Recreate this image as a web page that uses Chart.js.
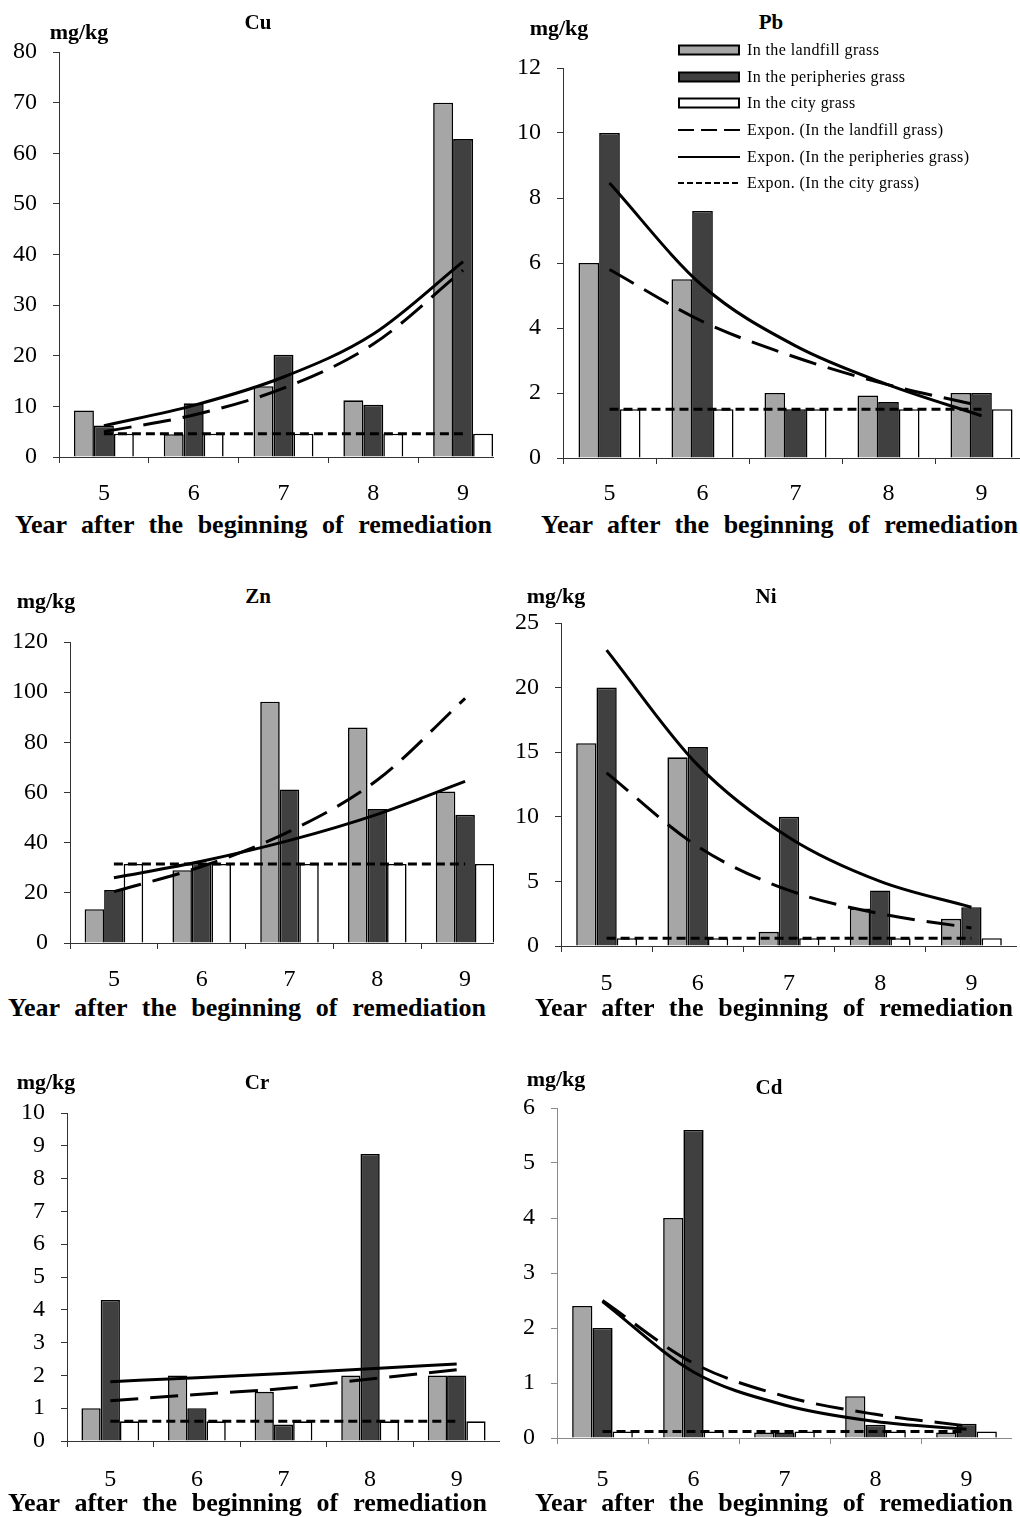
<!DOCTYPE html>
<html>
<head>
<meta charset="utf-8">
<script src="https://cdn.jsdelivr.net/npm/chart.js@4.4.1/dist/chart.umd.min.js"></script>
<style>
  html, body { margin:0; padding:0; background:#fff; }
  body { width:1020px; height:1517px; overflow:hidden; position:relative; font-family:"Liberation Serif","Times New Roman",serif; color:#000; }
  .ttl { position:absolute; font-weight:bold; font-size:21px; line-height:24px; white-space:nowrap; transform:translate(-50%,-50%); }
  .unit { position:absolute; font-weight:bold; font-size:22px; line-height:24px; white-space:nowrap; transform:translate(-50%,-50%); }
  .xt { position:absolute; font-weight:bold; font-size:26px; line-height:30px; height:30px; text-align:justify; text-align-last:justify; overflow:hidden; }
  .leg { position:absolute; left:678px; height:20px; display:flex; align-items:center; font-size:16px; letter-spacing:0.4px; white-space:nowrap; }
  .leg svg { margin-right:6px; }
</style>
</head>
<body>
<script>
// ---------- data ----------
const categories = ['5', '6', '7', '8', '9'];
const seriesNames = ['In the landfill grass', 'In the peripheries grass', 'In the city grass'];
const trendNames = ['Expon. (In the landfill grass)', 'Expon. (In the peripheries grass)', 'Expon. (In the city grass)'];
const xAxisTitle = 'Year after the beginning of remediation';
const unitLabel = 'mg/kg';

// Cu
const cuYTicks = [0, 10, 20, 30, 40, 50, 60, 70, 80];
const cuLandfill = [9.2, 4.5, 14.0, 11.2, 70.0];
const cuPeriph = [6.2, 10.6, 20.2, 10.3, 62.8];
const cuCity = [4.6, 4.6, 4.6, 4.6, 4.6];
const cuTrendLandfill = [5.0, 8.3, 13.6, 22.3, 36.9];
const cuTrendPeriph = [6.2, 10.2, 15.8, 24.3, 38.6];
const cuTrendCity = [4.6, 4.6, 4.6, 4.6, 4.6];

// Pb
const pbYTicks = [0, 2, 4, 6, 8, 10, 12];
const pbLandfill = [6.0, 5.5, 2.0, 1.92, 2.0];
const pbPeriph = [10.0, 7.6, 1.5, 1.72, 2.0];
const pbCity = [1.5, 1.5, 1.5, 1.5, 1.5];
const pbTrendLandfill = [5.8, 4.2, 3.1, 2.25, 1.6];
const pbTrendPeriph = [8.46, 5.3, 3.45, 2.25, 1.3];
const pbTrendCity = [1.5, 1.5, 1.5, 1.5, 1.5];

// Zn
const znYTicks = [0, 20, 40, 60, 80, 100, 120];
const znLandfill = [13.5, 29.0, 96.2, 85.9, 60.4];
const znPeriph = [21.1, 32.0, 61.2, 53.4, 51.1];
const znCity = [31.5, 31.5, 31.5, 31.5, 31.5];
const znTrendLandfill = [20.5, 30.5, 44.5, 65.0, 97.5];
const znTrendPeriph = [26.0, 32.6, 40.9, 51.3, 64.4];
const znTrendCity = [31.5, 31.5, 31.5, 31.5, 31.5];

// Ni
const niYTicks = [0, 5, 10, 15, 20, 25];
const niLandfill = [15.7, 14.6, 1.1, 2.9, 2.1];
const niPeriph = [20.0, 15.4, 10.0, 4.3, 3.0];
const niCity = [0.6, 0.6, 0.6, 0.6, 0.6];
const niTrendLandfill = [13.4, 7.7, 4.3, 2.5, 1.4];
const niTrendPeriph = [22.9, 14.0, 8.4, 5.0, 3.0];
const niTrendCity = [0.6, 0.6, 0.6, 0.6, 0.6];

// Cr
const crYTicks = [0, 1, 2, 3, 4, 5, 6, 7, 8, 9, 10];
const crLandfill = [1.0, 2.0, 1.5, 2.0, 2.0];
const crPeriph = [4.3, 1.0, 0.5, 8.75, 2.0];
const crCity = [0.6, 0.6, 0.6, 0.6, 0.6];
const crTrendLandfill = [1.23, 1.42, 1.6, 1.89, 2.17];
const crTrendPeriph = [1.81, 1.93, 2.06, 2.2, 2.35];
const crTrendCity = [0.6, 0.6, 0.6, 0.6, 0.6];

// Cd
const cdYTicks = [0, 1, 2, 3, 4, 5, 6];
const cdLandfill = [2.4, 4.0, 0.1, 0.76, 0.1];
const cdPeriph = [2.0, 5.6, 0.1, 0.24, 0.26];
const cdCity = [0.12, 0.12, 0.12, 0.12, 0.12];
const cdTrendLandfill = [2.5, 1.36, 0.76, 0.43, 0.22];
const cdTrendPeriph = [2.48, 1.2, 0.6, 0.3, 0.16];
const cdTrendCity = [0.12, 0.12, 0.12, 0.12, 0.12];

// ---------- styles ----------
const COL_LANDFILL = '#a6a6a6';
const COL_PERIPH = '#404040';
const COL_CITY = '#ffffff';
const DASH_LONG = [28, 12];
const DASH_SHORT = [9, 5];
const FONT = 'Liberation Serif';

function makePanel(p) {
  const padTop = 30, yW = 60, xH = 48;
  const w = p.right - p.left + yW;
  const h = p.bottom - p.top + padTop + xH;
  const wrap = document.createElement('div');
  const x0 = p.left - yW, y0 = p.top - padTop;
  wrap.style.cssText = `position:absolute;left:${x0}px;top:${y0}px;width:${Math.min(p.clip, p.right + 1) - x0}px;height:${h}px;overflow:hidden;`;
  const cv = document.createElement('canvas');
  cv.width = w; cv.height = h;
  cv.style.width = w + 'px'; cv.style.height = h + 'px';
  wrap.appendChild(cv);
  document.body.appendChild(wrap);

  const ax = p.axisColor || '#333';
  const bar = (label, data, color) => ({
    type: 'bar', label, data, backgroundColor: color, borderColor: '#000', borderWidth: 1.6,
    categoryPercentage: 0.667, barPercentage: 1.0, order: 2
  });
  const line = (label, data, dash) => ({
    type: 'line', label, data, borderColor: '#000', borderWidth: 3, borderDash: dash,
    pointRadius: 0, fill: false, cubicInterpolationMode: 'monotone', order: 1, borderCapStyle: 'butt'
  });

  new Chart(cv, {
    type: 'bar',
    data: {
      labels: categories,
      datasets: [
        bar(seriesNames[0], p.landfill, COL_LANDFILL),
        bar(seriesNames[1], p.periph, COL_PERIPH),
        bar(seriesNames[2], p.city, COL_CITY),
        line(trendNames[0], p.tLandfill, DASH_LONG),
        line(trendNames[1], p.tPeriph, []),
        line(trendNames[2], p.tCity, DASH_SHORT)
      ]
    },
    options: {
      responsive: false, animation: false, devicePixelRatio: 1,
      layout: { padding: { top: padTop, left: 0, right: 0, bottom: 0 } },
      plugins: { legend: { display: false }, tooltip: { enabled: false }, title: { display: false } },
      scales: {
        x: {
          type: 'category', offset: true,
          grid: { display: true, offset: true, drawOnChartArea: false, drawTicks: true, tickLength: 6, color: ax, lineWidth: 1 },
          border: { display: true, color: ax, width: 1 },
          ticks: { font: { family: FONT, size: 24 }, color: '#000', padding: p.xPad, maxRotation: 0, autoSkip: false },
          afterFit: s => { s.height = xH; }
        },
        y: {
          min: p.yTicks[0], max: p.yTicks[p.yTicks.length - 1],
          ticks: { stepSize: p.yTicks[1] - p.yTicks[0], font: { family: FONT, size: 24, lineHeight: 1 }, color: '#000', padding: 16, autoSkip: false, maxTicksLimit: 20 },
          grid: { display: true, drawOnChartArea: false, drawTicks: true, tickLength: 6, color: ax, lineWidth: 1 },
          border: { display: true, color: ax, width: 1 },
          afterFit: s => { s.width = yW; }
        }
      }
    }
  });

  // texts
  const t = document.createElement('div');
  t.className = 'ttl'; t.textContent = p.name;
  t.style.left = p.titleX + 'px'; t.style.top = p.titleY + 'px';
  document.body.appendChild(t);
  const u = document.createElement('div');
  u.className = 'unit'; u.textContent = unitLabel;
  u.style.left = p.unitX + 'px'; u.style.top = p.unitY + 'px';
  document.body.appendChild(u);
  const xt = document.createElement('div');
  xt.className = 'xt'; xt.textContent = xAxisTitle;
  xt.style.left = p.xtL + 'px'; xt.style.width = (p.xtR - p.xtL) + 'px'; xt.style.top = (p.xtY - 15) + 'px';
  document.body.appendChild(xt);
}

makePanel({ name: 'Cu', yTicks: cuYTicks, landfill: cuLandfill, periph: cuPeriph, city: cuCity,
  tLandfill: cuTrendLandfill, tPeriph: cuTrendPeriph, tCity: cuTrendCity,
  left: 59, top: 52, bottom: 457, right: 508, clip: 494, xPad: 16,
  titleX: 258, titleY: 22, unitX: 79, unitY: 32, xtL: 15, xtR: 492, xtY: 525 });
makePanel({ name: 'Pb', yTicks: pbYTicks, landfill: pbLandfill, periph: pbPeriph, city: pbCity,
  tLandfill: pbTrendLandfill, tPeriph: pbTrendPeriph, tCity: pbTrendCity,
  left: 563, top: 68, bottom: 458, right: 1028, clip: 1020, xPad: 15,
  titleX: 771, titleY: 22, unitX: 559, unitY: 28, xtL: 541, xtR: 1018, xtY: 525 });
makePanel({ name: 'Zn', yTicks: znYTicks, landfill: znLandfill, periph: znPeriph, city: znCity,
  tLandfill: znTrendLandfill, tPeriph: znTrendPeriph, tCity: znTrendCity,
  left: 70, top: 642, bottom: 943, right: 509, clip: 494, xPad: 16,
  titleX: 258, titleY: 596, unitX: 46, unitY: 601, xtL: 8, xtR: 486, xtY: 1008 });
makePanel({ name: 'Ni', yTicks: niYTicks, landfill: niLandfill, periph: niPeriph, city: niCity,
  tLandfill: niTrendLandfill, tPeriph: niTrendPeriph, tCity: niTrendCity,
  left: 561, top: 623, bottom: 946, right: 1017, clip: 1020, xPad: 17,
  titleX: 766, titleY: 596, unitX: 556, unitY: 596, xtL: 535, xtR: 1013, xtY: 1008 });
makePanel({ name: 'Cr', yTicks: crYTicks, landfill: crLandfill, periph: crPeriph, city: crCity,
  tLandfill: crTrendLandfill, tPeriph: crTrendPeriph, tCity: crTrendCity,
  left: 67, top: 1113, bottom: 1441, right: 500, clip: 501, xPad: 18,
  titleX: 257, titleY: 1082, unitX: 46, unitY: 1082, xtL: 8, xtR: 487, xtY: 1503 });
makePanel({ name: 'Cd', yTicks: cdYTicks, landfill: cdLandfill, periph: cdPeriph, city: cdCity,
  tLandfill: cdTrendLandfill, tPeriph: cdTrendPeriph, tCity: cdTrendCity,
  left: 557, top: 1108, bottom: 1438, right: 1012, clip: 1020, axisColor: '#8a8a8a', xPad: 21,
  titleX: 769, titleY: 1087, unitX: 556, unitY: 1079, xtL: 535, xtR: 1013, xtY: 1503 });

// ---------- legend (Pb panel) ----------
const legendYs = [50, 77, 103, 130, 157, 183];
const legendKinds = [
  { label: seriesNames[0], bar: COL_LANDFILL },
  { label: seriesNames[1], bar: COL_PERIPH },
  { label: seriesNames[2], bar: COL_CITY },
  { label: trendNames[0], dash: '16 7' },
  { label: trendNames[1], dash: '' },
  { label: trendNames[2], dash: '6 3' }
];
legendKinds.forEach((it, i) => {
  const d = document.createElement('div');
  d.className = 'leg';
  d.style.top = (legendYs[i] - 10) + 'px';
  let sw;
  if (it.bar) {
    sw = `<svg width="63" height="20"><rect x="1" y="5.5" width="60" height="9" fill="${it.bar}" stroke="#000" stroke-width="2"/></svg>`;
  } else {
    sw = `<svg width="63" height="20"><line x1="0" y1="10" x2="62" y2="10" stroke="#000" stroke-width="2" ${it.dash ? `stroke-dasharray="${it.dash}"` : ''}/></svg>`;
  }
  d.innerHTML = sw + '<span></span>';
  d.querySelector('span').textContent = it.label;
  document.body.appendChild(d);
});
</script>
</body>
</html>
